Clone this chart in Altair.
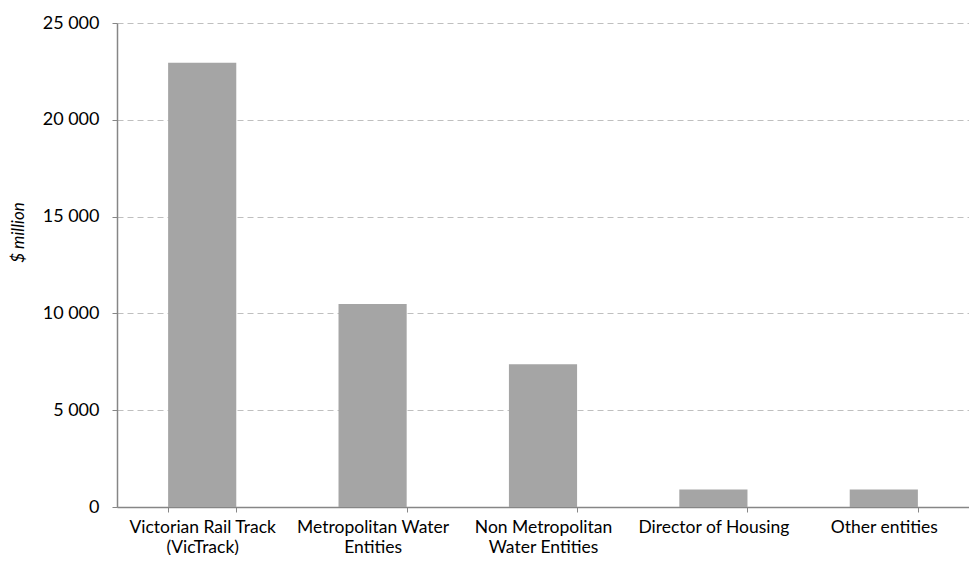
import altair as alt
import pandas as pd

categories = [
    "Victorian Rail Track|(VicTrack)",
    "Metropolitan Water|Entities",
    "Non Metropolitan|Water Entities",
    "Director of Housing",
    "Other entities",
]
values = [22950, 10480, 7370, 910, 910]

df = pd.DataFrame({"entity": categories, "value": values})

FONT = "Lato"

chart = (
    alt.Chart(df)
    .mark_bar(color="#a5a5a5")
    .encode(
        x=alt.X(
            "entity:N",
            sort=categories,
            scale=alt.Scale(paddingInner=0.6, paddingOuter=0.3),
            axis=alt.Axis(
                title=None,
                labelAngle=0,
                labelExpr="split(datum.label, '|')",
                labelFont=FONT,
                labelFontSize=17.5,
                labelColor="#000000",
                labelLineHeight=20,
                labelPadding=6,
                tickBand="extent",
                tickSize=5,
                tickColor="#868686",
                domainColor="#868686",
                domainWidth=1.5,
                grid=False,
            ),
        ),
        y=alt.Y(
            "value:Q",
            scale=alt.Scale(domain=[0, 25000], nice=False),
            axis=alt.Axis(
                title="$ million",
                titleFont=FONT,
                titleFontSize=17,
                titleFontStyle="italic",
                titleFontWeight="normal",
                titleColor="#000000",
                titleX=-99,
                titleY=209,
                titleAngle=-90,
                titleBaseline="middle",
                values=[0, 5000, 10000, 15000, 20000, 25000],
                labelExpr="replace(format(datum.value, ','), ',', ' ')",
                labelFont=FONT,
                labelFontSize=18,
                labelColor="#000000",
                labelPadding=13,
                tickSize=5,
                tickColor="#868686",
                domainColor="#868686",
                domainWidth=1.5,
                grid=True,
                gridColor="#bfbfbf",
                gridDash=[6, 4],
                gridWidth=1,
            ),
        ),
    )
    .properties(
        width=852,
        height=484,
        autosize=alt.AutoSizeParams(type="none"),
        padding={"left": 109, "top": 15, "right": 0, "bottom": 48},
    )
    .configure_view(stroke=None)
)

chart.save("out.html", embed_options={"renderer": "svg", "actions": False})
